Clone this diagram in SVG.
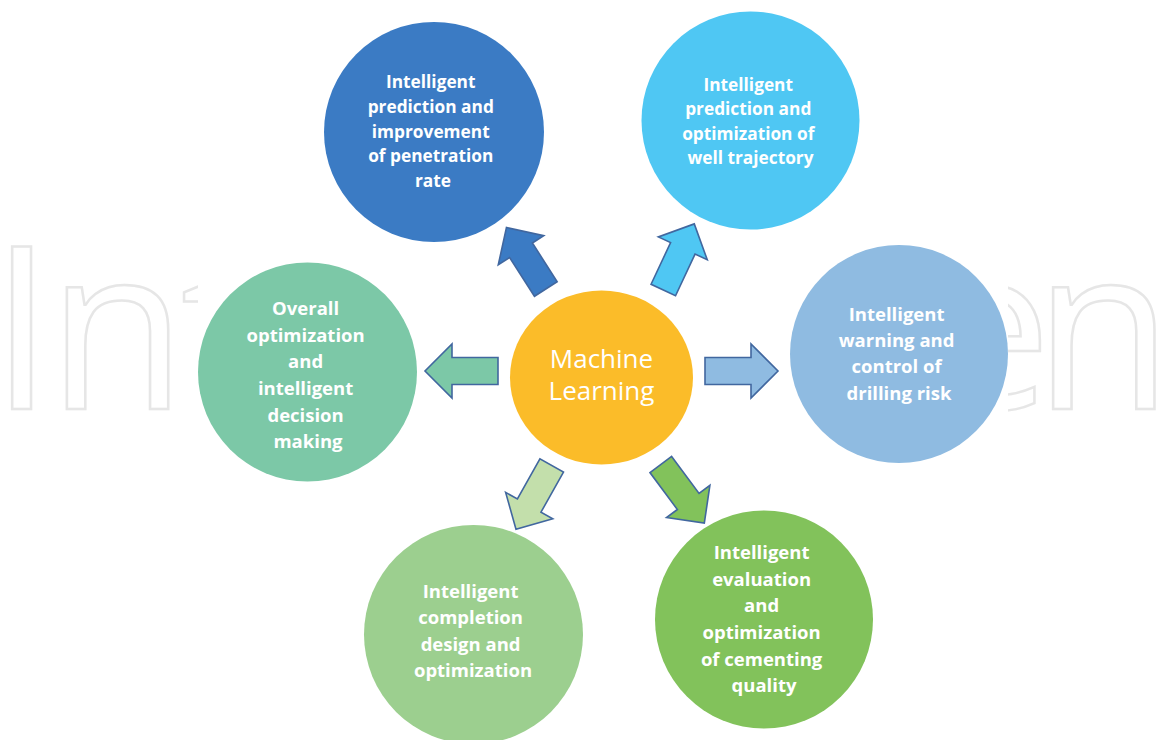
<svg xmlns="http://www.w3.org/2000/svg" width="1164" height="740" viewBox="0 0 1164 740">
  <style>
    .mark { font-family: "Open Sans", "DejaVu Sans", sans-serif; font-size: 227px; fill: none; stroke: #e6e6e6; stroke-width: 2.5; }
    .lbl { font-family: "Open Sans", "Liberation Sans", sans-serif; font-weight: 700; fill: #ffffff; text-anchor: middle; }
    .s17 { font-size: 17.3px; }
    .s18 { font-size: 18.5px; }
    .core { font-family: "Open Sans", "Liberation Sans", sans-serif; font-weight: 400; font-size: 26px; fill: #ffffff; text-anchor: middle; }
    .arrow { stroke: #41679f; stroke-width: 1.6; stroke-linejoin: miter; }
  </style>
  <defs>
    <!-- block arrow pointing along +x, origin at the tail centre -->
    <path id="blk" d="M0,-13.5 L46,-13.5 L46,-27 L73,0 L46,27 L46,13.5 L0,13.5 Z"/>
    <clipPath id="leftStrip"><rect x="0" y="0" width="198" height="740"/></clipPath>
    <clipPath id="rightStrip"><rect x="1008" y="0" width="156" height="740"/></clipPath>
  </defs>

  <rect width="1164" height="740" fill="#ffffff"/>

  <!-- background wordmark, only visible at the outer margins -->
  <g id="wordmark">
    <text class="mark" x="-10" y="409" letter-spacing="-6" clip-path="url(#leftStrip)">Int</text>
    <text class="mark" x="1173" y="409" text-anchor="end" clip-path="url(#rightStrip)">e<tspan dx="-18">n</tspan></text>
  </g>

  <g id="connectors">
    <use href="#blk" class="arrow" fill="#3b7bc4" transform="translate(545.8,289) rotate(-122.6)"/>
    <use href="#blk" class="arrow" fill="#4fc7f3" transform="translate(663.3,290) rotate(-64.9)"/>
    <use href="#blk" class="arrow" fill="#8fbbe1" transform="translate(705,371) rotate(0)"/>
    <use href="#blk" class="arrow" fill="#7cc8a7" transform="translate(498,371) rotate(180)"/>
    <use href="#blk" class="arrow" fill="#c3dfab" transform="translate(551.7,465.5) rotate(119.3)"/>
    <use href="#blk" class="arrow" fill="#82c25b" transform="translate(660.8,464.5) rotate(53.4)"/>
  </g>

  <g id="machine-learning">
    <ellipse cx="601.5" cy="377.5" rx="91.5" ry="87" fill="#fbbc29"/>
    <text class="core" x="601.5" y="368">Machine</text>
    <text class="core" x="601.5" y="400">Learning</text>
  </g>

  <g id="penetration-rate">
    <circle cx="434" cy="132" r="110" fill="#3b7bc4"/>
    <text class="lbl s17" x="433">
      <tspan x="433" y="88.3">Intelligent</tspan>
      <tspan x="433" y="113">prediction and</tspan>
      <tspan x="433" y="137.7">improvement</tspan>
      <tspan x="433" y="162.4">of penetration</tspan>
      <tspan x="433" y="187">rate</tspan>
    </text>
  </g>

  <g id="well-trajectory">
    <circle cx="750.5" cy="120.5" r="109" fill="#4fc7f3"/>
    <text class="lbl s17" x="750.5">
      <tspan x="750.5" y="90.5">Intelligent</tspan>
      <tspan x="750.5" y="115">prediction and</tspan>
      <tspan x="750.5" y="139.5">optimization of</tspan>
      <tspan x="750.5" y="164">well trajectory</tspan>
    </text>
  </g>

  <g id="drilling-risk">
    <circle cx="899" cy="354" r="109" fill="#8fbbe1"/>
    <text class="lbl s18" x="899">
      <tspan x="899" y="320.7">Intelligent</tspan>
      <tspan x="899" y="347">warning and</tspan>
      <tspan x="899" y="373.3">control of</tspan>
      <tspan x="899" y="400">drilling risk</tspan>
    </text>
  </g>

  <g id="decision-making">
    <circle cx="307.5" cy="372" r="109.5" fill="#7cc8a7"/>
    <text class="lbl s18" x="308">
      <tspan x="308" y="315">Overall</tspan>
      <tspan x="308" y="341.7">optimization</tspan>
      <tspan x="308" y="368.3">and</tspan>
      <tspan x="308" y="395">intelligent</tspan>
      <tspan x="308" y="421.7">decision</tspan>
      <tspan x="308" y="448.3">making</tspan>
    </text>
  </g>

  <g id="completion-design">
    <circle cx="473.5" cy="634.5" r="109.5" fill="#9ccf8f"/>
    <text class="lbl s18" x="473">
      <tspan x="473" y="597.7">Intelligent</tspan>
      <tspan x="473" y="624.2">completion</tspan>
      <tspan x="473" y="650.7">design and</tspan>
      <tspan x="473" y="677">optimization</tspan>
    </text>
  </g>

  <g id="cementing-quality">
    <circle cx="764" cy="619.5" r="109" fill="#82c25b"/>
    <text class="lbl s18" x="764">
      <tspan x="764" y="559">Intelligent</tspan>
      <tspan x="764" y="585.7">evaluation</tspan>
      <tspan x="764" y="612.4">and</tspan>
      <tspan x="764" y="639">optimization</tspan>
      <tspan x="764" y="665.7">of cementing</tspan>
      <tspan x="764" y="692">quality</tspan>
    </text>
  </g>
</svg>
